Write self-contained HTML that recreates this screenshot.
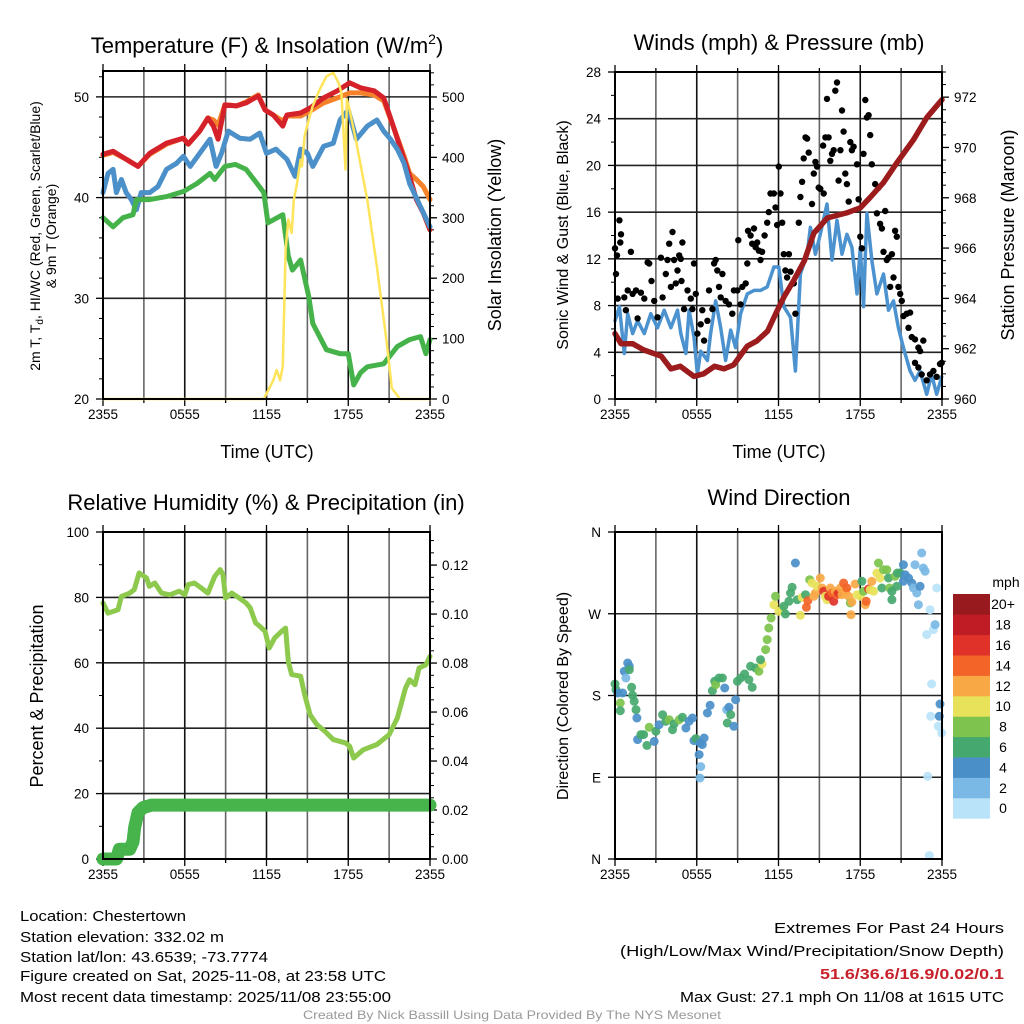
<!DOCTYPE html>
<html><head><meta charset="utf-8"><style>
html,body{margin:0;padding:0;background:#fff;}
svg{display:block;font-family:"Liberation Sans",sans-serif;}
</style></head><body>
<svg id="fig" width="1024" height="1024" viewBox="0 0 1024 1024" xmlns="http://www.w3.org/2000/svg">
<rect width="1024" height="1024" fill="#fff"/>
<g id="layer"></g>
<g font-size="22" text-anchor="middle" fill="#000">
<text x="267" y="53">Temperature (F) &amp; Insolation (W/m<tspan font-size="14" dy="-9">2</tspan><tspan dy="9">)</tspan></text>
<text x="779" y="50">Winds (mph) &amp; Pressure (mb)</text>
<text x="266" y="510">Relative Humidity (%) &amp; Precipitation (in)</text>
<text x="779" y="505">Wind Direction</text>
</g>
<g fill="#000" text-anchor="middle">
<text x="267" y="458" font-size="18">Time (UTC)</text>
<text x="779" y="458" font-size="18">Time (UTC)</text>
<text transform="translate(40,236) rotate(-90)" font-size="14">2m T, T<tspan font-size="10" dy="3">d</tspan><tspan dy="-3">, HI/WC (Red, Green, Scarlet/Blue)</tspan></text>
<text transform="translate(56,236) rotate(-90)" font-size="14">&amp; 9m T (Orange)</text>
<text transform="translate(501,235) rotate(-90)" font-size="18">Solar Insolation (Yellow)</text>
<text transform="translate(568,235) rotate(-90)" font-size="16">Sonic Wind &amp; Gust (Blue, Black)</text>
<text transform="translate(1014,235) rotate(-90)" font-size="18">Station Pressure (Maroon)</text>
<text transform="translate(43,696) rotate(-90)" font-size="18">Percent &amp; Precipitation</text>
<text transform="translate(568,696) rotate(-90)" font-size="16">Direction (Colored By Speed)</text>
</g>
<g font-size="15" fill="#000">
<text x="20" y="921" textLength="166" lengthAdjust="spacingAndGlyphs">Location: Chestertown</text>
<text x="20" y="942" textLength="204" lengthAdjust="spacingAndGlyphs">Station elevation: 332.02 m</text>
<text x="20" y="962" textLength="248" lengthAdjust="spacingAndGlyphs">Station lat/lon: 43.6539; -73.7774</text>
<text x="20" y="981" textLength="366" lengthAdjust="spacingAndGlyphs">Figure created on Sat, 2025-11-08, at 23:58 UTC</text>
<text x="20" y="1002" textLength="371" lengthAdjust="spacingAndGlyphs">Most recent data timestamp: 2025/11/08 23:55:00</text>
<text x="774" y="933" textLength="230" lengthAdjust="spacingAndGlyphs">Extremes For Past 24 Hours</text>
<text x="620" y="956" textLength="384" lengthAdjust="spacingAndGlyphs">(High/Low/Max Wind/Precipitation/Snow Depth)</text>
<text x="820" y="979" textLength="184" lengthAdjust="spacingAndGlyphs" fill="#c8202a" font-weight="bold">51.6/36.6/16.9/0.02/0.1</text>
<text x="680" y="1002" textLength="324" lengthAdjust="spacingAndGlyphs">Max Gust: 27.1 mph On 11/08 at 1615 UTC</text>
<text x="303" y="1019" font-size="12" fill="#999" textLength="418" lengthAdjust="spacingAndGlyphs">Created By Nick Bassill Using Data Provided By The NYS Mesonet</text>
</g>
</svg>
<script>
// ---------- Panel 1 data (hours since 2355) ----------
const redT=[0,0.74,1.7,2.57,3.43,4.66,5.9,6.25,7.1,7.7,8.1,8.45,8.95,9.8,10.5,11.4,11.9,12.5,13.2,13.5,14.5,15.2,16.2,17.2,18.1,18.9,19.9,20.6,21.3,22.1,22.5,23.0,23.5,24];
const redV=[44.3,44.6,43.8,43.1,44.4,45.4,45.9,45.3,46.6,47.9,47.1,45.8,49.2,49.1,49.4,50.1,48.7,48.2,47.1,48.2,48.4,48.9,49.9,50.6,51.4,50.9,50.6,49.9,47.1,43.8,42.1,39.8,38.5,36.8];
const orangeT=[0,0.74,1.7,2.57,3.43,4.66,5.9,6.25,7.1,7.7,8.1,8.45,8.95,9.8,10.5,11.4,11.9,12.5,13.2,13.5,14.5,15.2,16.2,17.2,18.1,18.9,19.9,20.6,21.3,22.1,22.5,23.0,23.5,24];
const orangeV=[44.2,44.5,43.8,43.1,44.3,45.3,45.9,45.3,46.6,47.9,47.7,47.2,49.2,49.1,49.5,50.2,48.7,48.2,47.6,48.1,48.1,48.6,49.4,49.9,50.4,50.4,50.2,49.6,47.1,44.1,42.4,41.8,41.1,39.8];
const blueT=[0,0.37,0.74,0.98,1.35,1.7,2.08,2.45,2.8,3.43,4.04,4.66,5.4,5.9,6.4,7.1,7.85,8.3,8.7,9.2,10.05,10.8,11.5,12.0,12.7,13.5,14.1,14.5,15,15.4,16.2,16.9,17.4,18.0,18.6,19.4,20.1,20.6,21.1,21.6,22.1,22.5,23.3,24];
const blueV=[40.5,42.4,42.8,40.5,41.8,40.5,39.8,38.8,40.5,40.5,41.1,42.8,43.4,44.1,43.1,44.4,45.8,43.1,44.4,46.6,45.9,45.8,46.4,44.4,44.8,43.8,42.1,44.8,44.4,43.1,45.1,45.4,47.7,48.7,45.8,47.1,47.7,46.6,45.8,44.8,43.4,41.4,39.1,37.1];
const greenT=[0,0.74,1.47,2.2,2.45,3.43,4.66,5.9,6.9,7.85,8.2,8.95,9.7,10.5,11.3,11.8,12.1,13.2,13.6,13.9,14.5,15.1,15.4,16.4,17.4,18.0,18.4,18.9,19.4,20.6,21.6,22.5,23.3,23.7,24];
const greenV=[38.0,37.1,38.0,38.3,39.8,39.8,40.1,40.6,41.4,42.4,41.8,43.1,43.3,42.8,41.4,40.5,37.5,38.3,34.2,32.8,33.8,30.2,27.5,24.9,24.5,24.5,21.4,22.6,23.2,23.5,25.2,25.9,26.2,24.5,25.9];
const solarT=[0,11.8,12.5,12.75,13.0,13.2,13.4,13.6,13.85,14.0,14.2,14.5,14.6,14.8,15.1,15.4,15.9,16.4,16.9,17.3,17.5,17.8,17.9,18.1,18.6,19.4,20.1,20.8,21.2,21.8,24];
const solarV=[0,0,31,48,31,54,247,297,275,330,352,396,385,435,462,485,512,534,540,523,507,380,496,479,424,330,219,98,18,0,0];
// ---------- Panel 2 data ----------
const windT=[0,0.32,0.68,0.93,1.29,1.66,2.15,2.63,3.12,3.61,4.1,4.59,4.83,5.2,5.44,5.8,6.05,6.29,6.78,7.02,7.39,7.76,8.12,8.49,8.85,9.22,9.71,10.2,10.68,11.17,11.66,12.02,12.39,12.88,13.24,13.61,14.1,14.34,14.71,15.07,15.56,15.93,16.29,16.66,17.02,17.39,17.76,18.0,18.24,18.49,18.85,19.22,19.71,20.07,20.44,20.8,21.17,21.66,22.02,22.39,22.88,23.24,23.61,23.98];
const windV=[6.7,7.9,3.9,7.3,5.6,6.7,5.6,7.3,6.1,7.6,6.1,7.6,5.6,3.9,7.6,5.3,2.1,4.1,3.3,5.6,8.4,6.1,3.3,5.9,4.4,7.3,9.0,9.3,9.3,9.6,11.3,11.3,7.9,7.0,2.4,10.7,12.4,14.7,12.4,14.1,16.7,11.9,15.3,12.4,14.1,13.0,9.0,13.0,7.9,15.9,11.9,9.0,10.7,7.6,8.4,6.1,4.4,2.4,1.6,2.4,0.4,2.1,0.4,1.9];
const gustT=[0,0.07,0.15,0.32,0.44,0.39,0.2,0.68,0.8,0.93,1.17,1.29,1.54,1.66,1.9,2.15,2.39,2.51,2.68,2.88,3.12,3.37,3.49,3.73,3.85,3.98,4.1,4.22,4.34,4.46,4.59,4.71,4.83,4.88,4.95,5.07,5.32,5.56,5.68,5.8,5.93,6.05,6.29,6.41,6.54,6.78,6.9,7.15,7.27,7.39,7.51,7.63,7.76,7.88,8.12,8.37,8.61,8.73,8.98,9.05,9.22,9.34,9.59,9.71,9.76,9.95,10.07,10.2,10.32,10.44,10.56,10.68,10.8,10.98,11.17,11.29,11.41,11.66,11.78,11.9,12.02,12.15,12.27,12.39,12.51,12.63,12.76,12.88,13.12,13.24,13.49,13.61,13.73,13.85,13.98,14.1,14.22,14.46,14.59,14.71,14.83,14.95,15.07,15.27,15.32,15.44,15.56,15.68,15.8,15.93,16.05,16.17,16.29,16.41,16.54,16.66,16.78,16.9,17.02,17.15,17.27,17.39,17.51,17.76,17.88,18.0,18.12,18.24,18.37,18.49,18.61,18.73,18.85,19.1,19.22,19.34,19.46,19.59,19.71,19.83,19.95,20.07,20.32,20.2,20.44,20.56,20.68,20.8,20.93,21.05,21.17,21.41,21.66,21.54,21.78,22.02,22.27,22.39,22.63,22.02,22.27,22.51,22.88,23.12,23.37,23.61,23.85,23.98];
const gustV=[12.9,10.7,12.3,15.3,14.1,13.4,8.6,8.7,7.6,9.3,12.6,9.0,9.3,6.9,9.1,8.6,11.7,11.6,10.1,8.4,7.0,12.1,8.7,10.7,11.9,13.3,9.6,14.3,11.9,9.9,11.0,12.3,12.0,10.1,13.4,7.7,9.3,8.6,7.7,11.6,9.0,5.6,6.4,7.6,5.0,6.7,9.3,7.7,11.6,11.9,11.0,9.6,8.7,10.7,8.4,8.1,7.3,9.3,9.3,13.6,8.1,9.6,9.9,11.6,14.4,14.0,13.3,14.6,13.0,13.4,12.7,11.9,12.6,14.0,15.1,16.0,17.6,17.6,16.4,14.9,19.9,17.6,15.1,12.4,11.0,10.4,12.4,10.9,9.9,7.3,15.1,17.3,18.6,20.6,22.4,22.3,21.1,16.7,19.3,20.3,19.9,18.1,18.0,21.7,17.6,22.4,25.7,22.4,20.4,21.0,21.3,26.4,27.1,18.7,21.3,24.7,22.9,19.3,18.4,16.9,22.0,21.3,21.6,20.1,17.1,13.9,12.9,21.0,25.6,24.1,24.3,22.6,20.1,18.4,15.9,18.1,15.0,14.6,12.6,16.1,11.9,12.1,12.4,9.6,10.4,14.4,13.9,9.6,9.0,8.4,7.1,7.3,7.4,6.1,5.3,5.1,4.4,4.1,5.0,3.1,2.7,2.1,1.6,2.1,2.4,1.9,3.0,3.1];
const presT=[0,0.44,1.3,2.1,3.4,4.1,4.8,5.8,6.5,7.3,8,8.7,9.7,10.4,11.2,11.8,12.4,13.1,13.9,14.6,15.6,17,18,18.7,19.7,20.7,21.9,22.9,24];
const presV=[962.6,962.2,962.2,961.95,961.7,961.2,961.3,960.9,961.0,961.3,961.2,961.35,962.1,962.3,962.7,963.4,964.06,964.7,965.5,966.6,967.2,967.4,967.6,968.0,968.6,969.4,970.3,971.2,971.9];
// ---------- Panel 3 data ----------
const rhT=[0,0.37,1.1,1.35,1.96,2.3,2.65,3.2,3.4,3.8,4.3,4.9,5.6,6.0,6.25,6.7,7.2,7.7,8.2,8.6,8.8,9.0,9.45,10.0,10.5,10.8,11.2,11.5,11.9,12.2,12.6,13.1,13.4,13.6,13.85,14.5,14.8,15.2,15.7,16.3,16.9,17.8,18.1,18.4,19.1,20.1,21,21.6,22.2,22.5,22.9,23.2,23.7,24];
const rhV=[78.3,75.2,76.2,80.3,81.3,82.4,87.5,85.9,83.4,84.4,81.3,80.8,81.9,80.8,83.9,84.4,82.9,81.3,86.4,88.5,87,79.8,81.3,79.8,78.3,76.8,72.2,71.2,69.6,64.5,67.6,69.6,70.6,60.4,56.4,55.9,50.3,44.1,41.1,39.0,36.5,35.5,34.5,30.9,33.4,35.0,38.0,43.1,52.3,54.8,53.3,58.4,59.4,62.0];
const precipT=[0,1.0,1.2,1.96,2.2,2.33,2.57,2.94,3.55,6,12,18,24];
const precipV=[0,0,0.004,0.004,0.007,0.013,0.019,0.021,0.022,0.022,0.022,0.022,0.022];
// ---------- Panel 4 data ----------
const dirT=[0,0.07,0.2,0.39,0.39,0.56,0.68,0.8,0.93,1.05,1.05,1.22,1.29,1.41,1.54,1.61,1.66,1.9,2.1,2.34,2.51,2.88,3.0,3.24,3.49,3.73,3.98,4.22,4.34,4.71,4.95,5.2,5.44,5.68,5.8,5.93,6.17,6.24,6.41,6.54,6.29,6.24,6.78,6.98,7.15,7.32,7.39,7.63,7.88,8.05,8.2,8.37,8.24,8.49,8.73,8.85,8.98,9.22,9.51,9.83,10.07,9.95,10.32,10.56,10.8,10.68,11.05,11.17,11.29,11.46,11.66,11.78,12.02,12.27,12.39,12.51,12.76,12.88,13.0,13.24,13.37,13.61,13.73,13.98,14.05,14.15,14.29,14.46,14.59,14.71,14.83,15.07,15.2,15.32,15.44,15.56,15.68,15.8,15.93,16.05,16.17,16.29,16.41,16.54,16.66,16.78,16.9,17.02,17.15,17.27,17.32,17.39,17.63,17.76,18.0,18.12,18.24,18.37,18.44,18.61,18.73,18.85,18.98,19.22,19.34,19.46,19.59,19.71,19.95,20.07,20.15,20.32,20.32,20.56,20.68,20.73,20.93,21.17,21.17,21.29,21.54,21.78,21.9,22.02,22.15,22.27,22.39,22.51,22.63,22.76,22.88,23.12,23.37,23.49,23.61,23.24,23.17,23.73,23.85,23.8,23.98,22.95,23.07];
const dirV=[192.7,186.4,182.8,171.7,163.3,182.8,206.6,199.3,215.8,212.1,208.4,189.0,180.2,173.6,164.4,155.2,131.4,136.9,136.9,125.1,145.0,129.5,140.6,147.9,158.9,151.6,153.4,142.4,148.6,153.4,156.0,144.2,151.6,155.2,130.3,132.5,114.9,127.7,125.9,133.2,101.7,89.2,160.7,169.2,185.3,195.6,191.9,199.3,199.3,188.3,164.4,167.0,149.7,158.9,146.1,175.4,195.6,199.3,203.7,197.4,189.0,212.1,210.3,206.6,214.7,219.4,230.5,241.5,254.3,265.3,280.0,289.2,272.7,274.5,278.2,269.7,283.7,292.8,299.1,325.9,285.5,268.3,288.1,291.0,277.1,284.4,307.5,303.9,289.2,292.8,300.2,309.4,298.3,294.7,289.2,285.5,289.2,298.3,292.8,283.7,294.7,291.0,292.8,298.3,291.0,303.9,294.7,298.3,289.2,281.8,269.0,282.9,302.8,291.0,289.2,305.7,294.7,280.0,283.7,297.2,296.5,305.7,294.7,314.9,325.9,309.4,298.3,318.5,318.5,309.4,298.3,294.7,285.5,311.2,300.2,314.9,314.9,324.0,305.7,313.0,309.4,303.9,298.3,324.0,292.8,280.0,300.2,336.9,320.4,316.7,247.0,274.5,252.5,258.0,298.3,192.7,157.1,146.1,170.6,157.1,138.7,91.0,3.7];
const dirSpd=[6,6,4,8,6,4,4,2,4,4,6,6,6,6,6,4,4,6,6,6,8,4,6,4,6,6,8,6,6,8,6,4,4,4,4,6,4,4,4,4,2,2,4,4,6,6,8,6,6,4,2,4,6,6,4,4,6,6,6,6,6,6,6,8,10,6,8,8,8,8,10,8,10,10,6,6,6,6,6,4,6,10,10,6,14,14,8,10,12,12,10,12,12,16,10,10,16,12,14,16,12,14,16,12,12,14,12,14,12,8,12,12,12,10,10,6,8,12,14,16,10,12,10,10,8,10,6,8,8,6,8,6,6,8,6,6,6,4,4,4,4,4,2,2,2,2,4,2,2,2,0,0,0,2,0,0,0,0,4,4,0,0,0];
const speedBins=[0,2,4,6,8,10,12,14,16,18,20];
const speedLabels=["0","2","4","6","8","10","12","14","16","18","20+"];
const speedColors=["#b9e3f8","#7ab9e5","#4a8fc8","#45a86e","#7dc34d","#e8e25a","#f8a845","#f26428","#e03229","#c01c25","#981a1e"];
const xTickLabels=["2355","0555","1155","1755","2355"];
const dirLabels=["N","E","S","W","N"];

const NS="http://www.w3.org/2000/svg";
const layer=document.getElementById('layer');
function mk(tag,attrs,parent){const e=document.createElementNS(NS,tag);for(const k in attrs)e.setAttribute(k,attrs[k]);(parent||layer).appendChild(e);return e;}
function scale(d0,d1,r0,r1){return v=>r0+(v-d0)/(d1-d0)*(r1-r0);}

const P1={x0:103,x1:430,y0:71,y1:399};
const P2={x0:615,x1:942,y0:72,y1:399};
const P3={x0:103,x1:430,y0:532,y1:859};
const P4={x0:615,x1:942,y0:532,y1:859};

function frame(p,name,leftTicks,leftMinor,ly,leftFmt,rightTicks,rightMinor,ry,rightFmt){
  const g=mk('g',{});
  
  
  const xs=scale(0,24,p.x0,p.x1);
  for(let h=3;h<24;h+=3){const l=mk('line',{x1:xs(h),x2:xs(h),y1:p.y0,y2:p.y1,stroke:h%6==0?'#111':'#666','stroke-width':1.6},g);}
  leftTicks.forEach(v=>{const y=ly(v);if(y>p.y0+1&&y<p.y1-1){const l=mk('line',{x1:p.x0,x2:p.x1,y1:y,y2:y,stroke:'#222','stroke-width':1.6},g);}});
  for(let h=0;h<=24;h+=3){const len=h%6==0?7:4;mk('line',{x1:xs(h),x2:xs(h),y1:p.y1,y2:p.y1+len,stroke:'#000','stroke-width':1.3},g);mk('line',{x1:xs(h),x2:xs(h),y1:p.y0,y2:p.y0-len,stroke:'#000','stroke-width':1.3},g);}
  xTickLabels.forEach((s,i)=>{const t=mk('text',{x:xs(i*6),y:p.y1+20,'font-size':13.5,'text-anchor':'middle'},g);t.textContent=s;});
  leftTicks.forEach((v,i)=>{const y=ly(v);mk('line',{x1:p.x0-7,x2:p.x0,y1:y,y2:y,stroke:'#000','stroke-width':1.3},g);const t=mk('text',{x:p.x0-14,y:y+5,'font-size':13.5,'text-anchor':'end'},g);t.textContent=leftFmt(v,i);});
  leftMinor.forEach(v=>{const y=ly(v);mk('line',{x1:p.x0-4,x2:p.x0,y1:y,y2:y,stroke:'#000','stroke-width':1},g);});
  if(rightTicks){rightTicks.forEach(v=>{const y=ry(v);mk('line',{x1:p.x1,x2:p.x1+7,y1:y,y2:y,stroke:'#000','stroke-width':1.3},g);const t=mk('text',{x:p.x1+12,y:y+5,'font-size':13.5,'text-anchor':'start'},g);t.textContent=rightFmt(v);});
  rightMinor.forEach(v=>{const y=ry(v);mk('line',{x1:p.x1,x2:p.x1+4,y1:y,y2:y,stroke:'#000','stroke-width':1},g);});}
  return g;
}
function box(p,name){const r=mk('rect',{x:p.x0,y:p.y0,width:p.x1-p.x0,height:p.y1-p.y0,fill:'none',stroke:'#000','stroke-width':2});}
function line(T,V,xs,ys,color,w,name){const d=T.map((t,i)=>(i?'L':'M')+xs(t).toFixed(1)+','+ys(V[i]).toFixed(1)).join('');const e=mk('path',{d:d,fill:'none',stroke:color,'stroke-width':w,'stroke-linejoin':'round','stroke-linecap':'round'});return e;}
function rng(a,b,s){const r=[];for(let v=a;v<=b+1e-9;v+=s)r.push(+v.toFixed(4));return r;}

// Panel 1
{const p=P1,xs=scale(0,24,p.x0,p.x1),ly=scale(20,52.57,p.y1,p.y0),ry=scale(0,543,p.y1,p.y0);
frame(p,'temperature',[20,30,40,50],rng(22,52,2).filter(v=>v%10),ly,v=>v,rng(0,500,100),rng(20,540,20),ry,v=>v);
line(orangeT,orangeV,xs,ly,'#f5822b',5,'nine-meter-temp-line');
line(redT,redV,xs,ly,'#d5222a',5,'two-meter-temp-line');
line(blueT,blueV,xs,ly,'#4b90c9',5,'heat-index-windchill-line');
line(greenT,greenV,xs,ly,'#45b24a',5,'dewpoint-line');
line(solarT,solarV,xs,ry,'#fde45a',2.5,'solar-insolation-line');
box(p,'temperature');}
// Panel 2
{const p=P2,xs=scale(0,24,p.x0,p.x1),ly=scale(0,28,p.y1,p.y0),ry=scale(960,973,p.y1,p.y0);
frame(p,'wind',rng(0,28,4),rng(2,26,4),ly,v=>v,rng(960,972,2),rng(960.5,973,0.5).filter(v=>v%2),ry,v=>v);
line(windT,windV,xs,ly,'#4b92cf',3.5,'sustained-wind-line');
gustT.forEach((t,i)=>{const c=mk('circle',{cx:xs(t).toFixed(1),cy:ly(gustV[i]).toFixed(1),r:3.2,fill:'#000'});});
line(presT,presV,xs,ry,'#9c1b1d',5.5,'pressure-line');
box(p,'wind');}
// Panel 3
{const p=P3,xs=scale(0,24,p.x0,p.x1),ly=scale(0,100,p.y1,p.y0),ry=scale(0,0.1335,p.y1,p.y0);
frame(p,'humidity',rng(0,100,20),rng(10,90,20),ly,v=>v,rng(0,0.12,0.02),rng(0.005,0.13,0.005),ry,v=>v.toFixed(2));
line(precipT,precipV,xs,ry,'#46b34b',13,'precipitation-line');
line(rhT,rhV,xs,ly,'#8dc94d',5,'relative-humidity-line');
box(p,'humidity');}
// Panel 4
{const p=P4,xs=scale(0,24,p.x0,p.x1),ly=scale(0,360,p.y1,p.y0);
frame(p,'direction',[0,90,180,270,360],[],ly,(v,i)=>dirLabels[i],null);
dirT.forEach((t,i)=>{const s=dirSpd[i];let k=0;speedBins.forEach((b,j)=>{if(s>=b)k=j;});const c=mk('circle',{cx:xs(t).toFixed(1),cy:ly(dirV[i]).toFixed(1),r:4.5,fill:speedColors[k],'fill-opacity':0.92});});
box(p,'direction');
const cb=mk('g',{});
const bt=594,bh=20.4;
speedColors.forEach((c,i)=>{const y=bt+(10-i)*bh;const r=mk('rect',{x:953,y:y,width:37,height:bh+0.3,fill:c},cb);const t=mk('text',{x:1003,y:y+bh/2+5,'font-size':14,'text-anchor':'middle'},cb);t.textContent=speedLabels[i];});
const u=mk('text',{x:1006,y:587,'font-size':14,'text-anchor':'middle'},cb);u.textContent='mph';}
</script>
</body></html>
